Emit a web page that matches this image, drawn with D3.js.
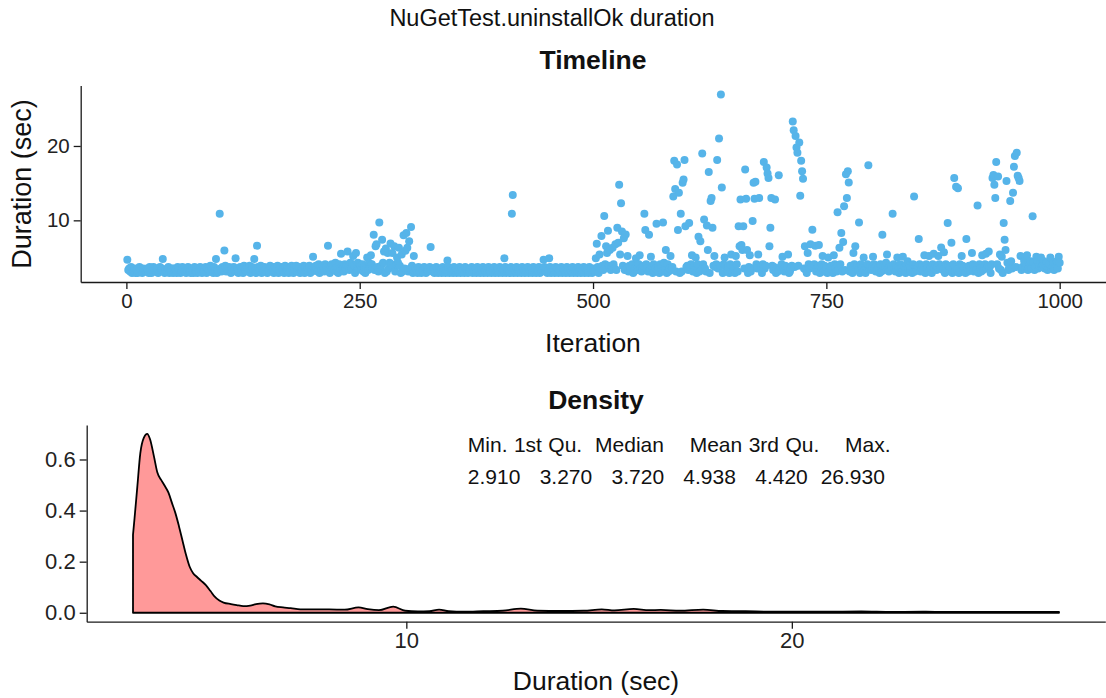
<!DOCTYPE html>
<html>
<head>
<meta charset="utf-8">
<script src="https://cdn.jsdelivr.net/npm/d3@7"></script>
<style>
  body { margin: 0; background: #fff; }
  svg { display: block; }
  text { font-family: 'Liberation Sans', Arial, Helvetica, sans-serif; }
</style>
</head>
<body>
<script>
// ---------------- DATA ----------------
const chartTitle = "NuGetTest.uninstallOk duration";
const timelineTitle = "Timeline";
const densityTitle = "Density";
const xTitleTop = "Iteration";
const yTitleTop = "Duration (sec)";
const xTitleBottom = "Duration (sec)";

// Baseline band of durations (one digit per iteration 1..1000, value = 2.91 + 0.2*digit)
const baselineDigits = [
  "9231402130 2014320312 1320410243 2130242381 0213402130 3120432014 2310243102 3041203142 0312403125 3204130214",
  "3142051324 2031425130 2413052143 1502413203 4125031423 0215342041 3502142305 1240315204 2513402135 0423150214",
  "4253160425 3164253046 3527140635 2416350427 3615042736 5261403527 4163725041 6352740615 3726045163 7250416352",
  "4163250413 2041302143 0213402130 1420312041 3021403120 4130214031 2041302134 0213041203 1402130412 0314021304",
  "1302140213 0412031402 1304120314 0213041302 1403120413 0214031204 1302140312 0413021403 1204130214 0312041302",
  "3152406315 2460135724 0631254063 1542036152 4601352460 3125406315 2740613524 0631572406 1352460315 2406135724",
  "5204631524 0631524603 1254061352 4603152406 1532406315 2046135204 6315204613 5204631254 0613524603 1524603152",
  "4603152460 1352046315 2460135204 6315246013 5204631524 0613520463 1524601352 4063152046 1352406315 2046135240",
  "6315240613 5247031524 0631574063 1524068352 4063152476 1352406315 2406835240 6315240613 5247063152 4061352406",
  "3152406135 2406315246 1352406315 2461352406 8357246835 7246835724 6835724683 5724683572 4683572468 3572468357"
];

// Outlying durations: [iteration, seconds]
const outliers = [
  [39,4.8],[96,4.8],[100,10.9],[105,5.95],[117,4.9],[137,4.8],[140,6.6],[200,5.1],[216,6.6],[230,5.5],
  [237,5.8],[243,5.2],[246,5.6],[258,5.0],[262,5.3],[265,8.07],[267,6.5],[268,6.8],[271,9.7],[274,7.4],
  [276,5.8],[278,6.2],[280,5.6],[283,6.9],[285,5.6],[287,6.5],[290,5.0],[292,6.3],[295,5.4],[297,8.0],
  [299,5.9],[300,8.3],[301,6.3],[303,7.2],[305,9.1],[308,5.2],[326,6.4],[344,4.6],[405,4.9],[413,10.9],
  [414,13.4],[447,4.7],[453,4.9],[503,4.9],[504,6.85],[507,5.4],[509,7.9],[512,10.6],[514,6.5],[515,5.6],
  [516,8.6],[518,6.0],[521,6.3],[524,6.8],[526,9.0],[527,7.0],[528,14.8],[529,5.4],[530,12.3],[531,8.5],
  [533,7.6],[535,8.1],[537,5.2],[546,4.9],[550,5.3],[555,10.9],[556,8.7],[560,8.07],[562,5.1],[568,9.55],
  [575,9.7],[578,6.0],[583,5.2],[586,13.2],[587,18.0],[588,14.2],[590,17.5],[591,8.7],[592,13.7],[594,10.9],
  [596,15.05],[597,15.5],[598,18.1],[599,9.2],[603,9.65],[606,5.3],[610,5.0],[613,7.8],[615,7.2],[617,19.0],
  [619,10.1],[622,9.3],[623,6.0],[624,16.5],[626,12.6],[627,13.0],[628,9.0],[630,5.2],[633,18.1],[635,21.0],
  [637,26.93],[638,14.4],[641,5.0],[648,5.4],[653,5.2],[656,9.2],[657,6.5],[658,12.8],[659,6.7],[660,6.0],
  [661,9.2],[663,16.85],[664,12.9],[665,6.0],[668,5.3],[671,9.9],[672,15.05],[673,12.9],[674,15.2],[677,5.4],
  [678,13.0],[683,17.85],[686,17.1],[687,16.3],[688,15.7],[689,6.5],[690,9.0],[691,13.0],[695,12.8],[699,16.05],
  [703,5.1],[709,5.4],[714,23.3],[715,22.1],[717,21.35],[718,19.8],[719,19.1],[721,20.45],[722,13.3],[723,18.0],
  [724,16.6],[725,15.6],[727,6.5],[730,5.6],[733,6.8],[735,8.75],[738,6.6],[742,6.7],[746,5.2],[752,5.0],
  [758,5.3],[762,11.1],[764,6.3],[766,8.3],[768,7.1],[769,11.9],[771,16.2],[772,13.0],[773,16.6],[774,15.1],
  [779,5.6],[781,6.5],[785,9.7],[790,5.0],[795,17.4],[800,5.1],[810,8.07],[815,5.4],[821,10.9],[826,5.0],
  [832,5.1],[844,13.2],[849,7.5],[855,5.3],[860,5.2],[865,5.5],[870,5.2],[873,6.35],[876,5.7],[880,9.65],
  [884,7.0],[887,15.7],[889,14.5],[891,14.3],[895,5.2],[900,7.5],[906,5.6],[912,12.0],[917,5.3],[921,5.5],
  [924,5.8],[928,15.7],[929,16.1],[930,14.8],[931,13.0],[932,17.85],[934,15.9],[936,5.4],[938,5.1],[940,9.65],
  [941,7.4],[942,6.0],[943,15.3],[947,12.6],[950,13.7],[951,17.2],[952,18.65],[954,19.1],[955,16.0],[956,15.7],
  [957,15.3],[958,5.2],[961,5.0],[965,5.3],[971,10.55],[975,5.1],[980,5.0],[990,5.0],[999,5.1]
];

// Density curve
const densX = [2.91,2.95,3.02,3.10,3.19,3.28,3.35,3.456,3.54,3.64,3.72,3.83,3.92,4.01,4.10,4.19,4.28,4.38,4.47,4.57,
  4.68,4.80,4.92,5.03,5.15,5.26,5.45,5.60,5.77,5.95,6.10,6.28,6.45,6.60,6.80,7.00,7.25,7.60,8.00,8.40,
  8.76,9.00,9.29,9.66,9.97,10.30,10.60,10.85,11.10,11.50,12.00,12.50,12.97,13.40,14.00,14.60,15.07,15.40,15.90,16.30,
  16.60,17.10,17.70,18.20,18.80,19.50,20.20,21.00,21.80,22.60,23.40,24.20,25.00,25.80,26.40,26.93];
const densY = [0.305,0.37,0.49,0.625,0.685,0.70,0.68,0.61,0.55,0.52,0.50,0.47,0.43,0.39,0.34,0.285,0.23,0.18,0.155,0.14,
  0.125,0.108,0.085,0.063,0.048,0.040,0.034,0.030,0.026,0.028,0.034,0.037,0.033,0.025,0.021,0.018,0.013,0.013,0.013,0.012,
  0.021,0.014,0.010,0.024,0.008,0.005,0.006,0.012,0.006,0.004,0.006,0.008,0.016,0.008,0.007,0.008,0.013,0.009,0.015,0.010,
  0.011,0.008,0.012,0.007,0.006,0.004,0.004,0.004,0.005,0.003,0.004,0.003,0.003,0.003,0.003,0.003];

// Summary table
const summaryLabels = ["Min.","1st Qu.","Median","Mean","3rd Qu.","Max."];
const summaryValues = ["2.910","3.270","3.720","4.938","4.420","26.930"];

// Ticks
const iterTicks = [0,250,500,750,1000];
const durTicksTop = [10,20];
const durTicksBottom = [10,20];
const densTicks = [0,0.2,0.4,0.6];

// ---------------- BUILD ----------------
const digits = baselineDigits.join("").replace(/\s/g,"");
const points = [];
for (let i = 0; i < digits.length; i++) points.push({it: i + 1, v: 2.91 + 0.2 * (+digits[i])});
const byIt = new Map(points.map(p => [p.it, p]));
outliers.forEach(([it, v]) => { byIt.get(it).v = v; });

const W = 1106, H = 698;
const svg = d3.select("body").append("svg").attr("width", W).attr("height", H);
svg.append("rect").attr("width", W).attr("height", H).attr("fill", "#fff");

const axisColor = "#1a1a1a", textColor = "#222";

function pad(ext) { const s = ext[1] - ext[0]; return [ext[0] - 0.05 * s, ext[1] + 0.05 * s]; }

function styleAxis(g, fs) {
  g.select(".domain").attr("stroke", axisColor).attr("stroke-width", 1.3);
  g.selectAll(".tick line").attr("stroke", axisColor).attr("stroke-width", 1.3);
  g.selectAll(".tick text").attr("fill", textColor).style("font-size", fs + "px")
    .style("font-family", "'Liberation Sans', Arial, sans-serif");
}

// Title
svg.append("text").attr("x", 552).attr("y", 26).attr("text-anchor", "middle")
  .style("font-size", "23.5px").attr("fill", "#111").text(chartTitle);

// ---- Timeline panel ----
const xT = d3.scaleLinear().domain(pad(d3.extent(points, d => d.it))).range([80.7, 1106.3]);
const yT = d3.scaleLinear().domain(pad([d3.min(points, d => d.v), d3.max(points, d => d.v)])).range([282, 85.5]);

svg.append("text").attr("x", 593).attr("y", 69).attr("text-anchor", "middle")
  .style("font-size", "26.5px").style("font-weight", "bold").attr("fill", "#111").text(timelineTitle);

svg.append("g").selectAll("circle").data(points).join("circle")
  .attr("cx", d => xT(d.it)).attr("cy", d => yT(d.v)).attr("r", 4)
  .attr("fill", "#56B4E9");

const gxT = svg.append("g").attr("transform", `translate(0,${yT.range()[0]})`)
  .call(d3.axisBottom(xT).tickValues(iterTicks).tickSize(7).tickSizeOuter(0).tickPadding(4).tickFormat(d3.format("d")));
styleAxis(gxT, 20.5);
const gyT = svg.append("g").attr("transform", `translate(${xT.range()[0]},0)`)
  .call(d3.axisLeft(yT).tickValues(durTicksTop).tickSize(7).tickSizeOuter(0).tickPadding(4).tickFormat(d3.format("d")));
styleAxis(gyT, 20.5);

svg.append("text").attr("x", 593).attr("y", 352).attr("text-anchor", "middle")
  .style("font-size", "26.5px").attr("fill", "#111").text(xTitleTop);
svg.append("text").attr("transform", `translate(31,184) rotate(-90)`).attr("text-anchor", "middle")
  .style("font-size", "27px").attr("fill", "#111").text(yTitleTop);

// ---- Density panel ----
const dens = densX.map((x, i) => ({x, y: densY[i]}));
const xD = d3.scaleLinear().domain(pad(d3.extent(densX))).range([86.7, 1105.3]);
const yD = d3.scaleLinear().domain(pad([0, d3.max(densY)])).range([621.7, 425]);

svg.append("text").attr("x", 596).attr("y", 409).attr("text-anchor", "middle")
  .style("font-size", "26.5px").style("font-weight", "bold").attr("fill", "#111").text(densityTitle);

const area = d3.area().x(d => xD(d.x)).y0(yD(0)).y1(d => yD(d.y)).curve(d3.curveMonotoneX);
svg.append("path").datum(dens).attr("d", area)
  .attr("fill", "#FF9999").attr("stroke", "#000").attr("stroke-width", 1.8).attr("stroke-linejoin", "round");

const gxD = svg.append("g").attr("transform", `translate(0,${yD.range()[0]})`)
  .call(d3.axisBottom(xD).tickValues(durTicksBottom).tickSize(7).tickSizeOuter(0).tickPadding(4).tickFormat(d3.format("d")));
styleAxis(gxD, 22);
const gyD = svg.append("g").attr("transform", `translate(${xD.range()[0]},0)`)
  .call(d3.axisLeft(yD).tickValues(densTicks).tickSize(7).tickSizeOuter(0).tickPadding(4).tickFormat(d3.format(".1f")));
styleAxis(gyD, 22);

svg.append("text").attr("x", 596).attr("y", 690).attr("text-anchor", "middle")
  .style("font-size", "26.5px").attr("fill", "#111").text(xTitleBottom);

// Summary table (R print layout)
const hdr = summaryLabels.map(s => s.padStart(7)).join(" ").trim();
const vals = summaryValues.map(s => s.padStart(7)).join(" ").trim();
svg.append("text").attr("x", 467.8).attr("y", 451.5).style("white-space", "pre").style("word-spacing", "0.6px")
  .style("font-size", "21px").attr("fill", "#111").text(hdr);
svg.append("text").attr("x", 467.8).attr("y", 484).style("white-space", "pre").style("word-spacing", "0.6px")
  .style("font-size", "21px").attr("fill", "#111").text(vals);
</script>
</body>
</html>
